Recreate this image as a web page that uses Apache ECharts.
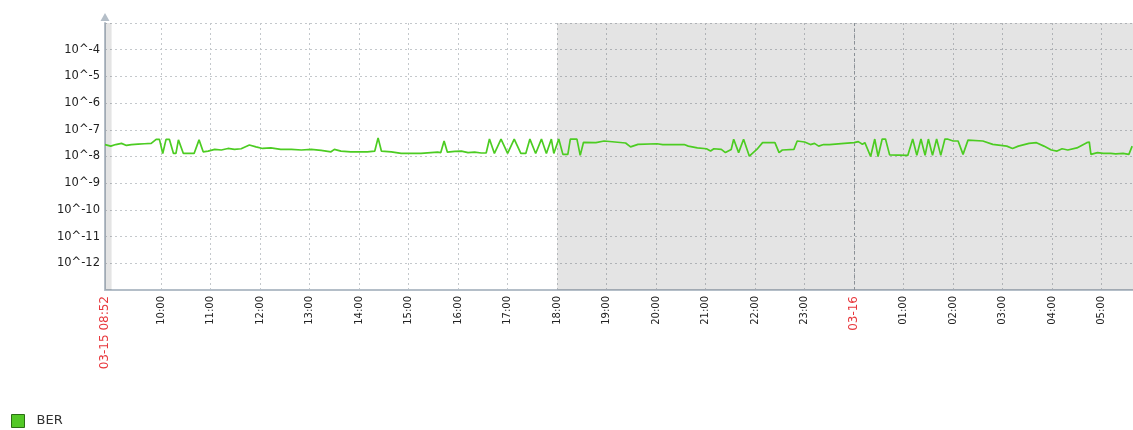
<!DOCTYPE html>
<html>
<head>
<meta charset="utf-8">
<script src="https://cdn.jsdelivr.net/npm/echarts@6/dist/echarts.min.js"></script>
<style>
  html, body { margin: 0; padding: 0; background: #fff; }
  #main { width: 1133px; height: 430px; }
</style>
</head>
<body>
<div id="main"></div>
<script>
// minutes since 03-15 00:00
const startMin = 532   // 03-15 08:52
const endMin = 1778    // 03-16 05:38
const workEnd = 1080   // 18:00, non-working time shaded after this
const workStart = 540  // 09:00

const xTicks = [532, 600, 660, 720, 780, 840, 900, 960, 1020, 1080, 1140, 1200,
   1260, 1320, 1380, 1440, 1500, 1560, 1620, 1680, 1740]
const yLabels = ['10^-4', '10^-5', '10^-6', '10^-7', '10^-8', '10^-9', '10^-10', '10^-11', '10^-12']

const times = [532, 539, 545, 552, 558, 564, 572, 580, 588, 594, 598, 602, 606, 610, 615,
   618, 621, 627, 640, 646, 651, 657, 665, 673, 681, 689, 697, 707, 715, 723, 733, 745,
   758, 770, 782, 794, 806, 810, 818, 830, 840, 850, 859, 863, 867, 879, 891, 903, 915,
   927, 935, 939, 943, 947, 956, 964, 972, 980, 988,
   994, 998, 1004, 1012, 1020, 1028, 1036, 1042, 1047, 1054, 1061, 1067, 1073, 1076,
   1082, 1087, 1093, 1096, 1104, 1108, 1112, 1127, 1137, 1163, 1169, 1178, 1201,
   1208, 1234, 1239, 1250, 1261, 1266, 1270, 1279, 1284, 1291, 1294, 1300, 1306, 1313,
   1322, 1329, 1344, 1349, 1353, 1367, 1371, 1380, 1387, 1392, 1397, 1403, 1410, 1428,
   1440, 1445, 1450, 1453, 1460, 1465, 1469, 1474, 1478, 1483, 1505, 1511, 1516, 1521,
   1526, 1530, 1535, 1540, 1545, 1550, 1553, 1560, 1566, 1572, 1578, 1596, 1608, 1625,
   1632, 1639, 1652, 1661, 1670, 1679, 1686, 1692, 1699, 1710, 1722, 1725, 1727, 1735,
   1742, 1751, 1757, 1766, 1773, 1777]

const ber = [2.8e-8, 2.45e-8, 2.8e-8, 3.1e-8, 2.6e-8, 2.8e-8, 2.9e-8, 3.0e-8, 3.1e-8, 4.4e-8,
   4.4e-8, 1.3e-8, 4.4e-8, 4.4e-8, 1.3e-8, 1.3e-8, 4.2e-8, 1.3e-8, 1.3e-8, 4.2e-8, 1.5e-8,
   1.6e-8, 1.84e-8, 1.75e-8, 2.0e-8, 1.84e-8, 1.95e-8, 2.7e-8, 2.3e-8, 2.0e-8, 2.1e-8,
   1.84e-8, 1.84e-8, 1.75e-8, 1.84e-8, 1.7e-8, 1.5e-8, 1.84e-8, 1.6e-8, 1.5e-8, 1.5e-8,
   1.5e-8, 1.6e-8, 5.0e-8, 1.6e-8, 1.5e-8, 1.3e-8, 1.3e-8, 1.32e-8, 1.4e-8, 1.45e-8, 1.4e-8,
   3.8e-8, 1.45e-8, 1.55e-8, 1.6e-8, 1.4e-8, 1.45e-8, 1.35e-8,
   1.35e-8, 4.5e-8, 1.3e-8, 4.5e-8, 1.3e-8, 4.5e-8, 1.3e-8, 1.3e-8, 4.5e-8, 1.3e-8,
   4.5e-8, 1.3e-8, 4.5e-8, 1.3e-8, 4.5e-8, 1.2e-8, 1.2e-8, 4.5e-8, 4.5e-8, 1.1e-8,
   3.4e-8, 3.3e-8, 3.8e-8, 3.2e-8, 2.3e-8, 2.85e-8, 3.0e-8, 2.8e-8, 2.8e-8, 2.45e-8,
   2.1e-8, 1.95e-8, 1.6e-8, 1.95e-8, 1.84e-8, 1.4e-8, 1.84e-8, 4.4e-8, 1.4e-8, 4.4e-8,
   1.03e-8, 1.84e-8, 3.3e-8, 3.3e-8, 1.4e-8, 1.75e-8, 1.84e-8, 3.8e-8, 3.5e-8, 2.8e-8,
   3.1e-8, 2.45e-8, 2.8e-8, 2.8e-8, 3.1e-8, 3.3e-8, 3.6e-8, 2.9e-8, 3.3e-8, 1.0e-8,
   4.5e-8, 1.0e-8, 4.5e-8, 4.5e-8, 1.15e-8, 1.1e-8, 4.5e-8, 1.1e-8, 4.5e-8, 1.1e-8,
   4.5e-8, 1.1e-8, 4.5e-8, 1.1e-8, 4.5e-8, 4.5e-8, 3.8e-8, 3.8e-8, 1.2e-8, 4.1e-8,
   3.8e-8, 2.85e-8, 2.45e-8, 2.0e-8, 2.45e-8, 3.1e-8, 3.3e-8, 2.45e-8, 1.75e-8, 1.6e-8,
   1.95e-8, 1.75e-8, 2.1e-8, 3.3e-8, 3.5e-8, 1.2e-8, 1.4e-8, 1.3e-8, 1.3e-8, 1.25e-8,
   1.3e-8, 1.2e-8, 2.45e-8]

function pad(n) {
   return (n < 10 ? '0' : '') + n
}

let myChart = echarts.init(document.getElementById('main'))

myChart.setOption({
   animation: false,
   grid: {
      left: 105,
      right: 0,
      top: 23,
      bottom: 140
   },
   legend: {
      left: 11,
      top: 414,
      padding: 0,
      icon: 'rect',
      itemWidth: 13,
      itemHeight: 13,
      itemStyle: {
         borderColor: '#2b6e14',
         borderWidth: 1
      },
      textStyle: {
         fontFamily: 'DejaVu Sans',
         fontSize: 13,
         color: '#333',
         padding: [0, 0, 0, 7]
      },
      data: ['BER']
   },
   xAxis: {
      type: 'value',
      min: startMin,
      max: endMin,
      axisLine: {
         lineStyle: { color: '#b4bec8', width: 2 }
      },
      axisTick: { show: false, customValues: xTicks },
      axisLabel: {
         customValues: xTicks,
         rotate: 90,
         margin: 6,
         fontFamily: 'DejaVu Sans',
         fontSize: 10,
         color: '#222',
         formatter: function (v) {
            if (v === startMin) return '{red|03-15 08:52}'
            if (v === 1440) return '{red|03-16}'
            let m = v % 1440
            return pad(Math.floor(m / 60)) + ':' + pad(m % 60)
         },
         rich: {
            red: { color: '#e8383d', fontSize: 12, fontFamily: 'DejaVu Sans' }
         }
      },
      splitLine: {
         show: true,
         showMinLine: false,
         lineStyle: { color: '#c4c8cc', type: [2, 3], width: 1 }
      }
   },
   yAxis: {
      type: 'log',
      logBase: 10,
      min: 1e-13,
      max: 1e-3,
      splitNumber: 10,
      axisLine: {
         show: true,
         symbol: ['none', 'triangle'],
         symbolSize: [9, 8],
         symbolOffset: [0, 6],
         lineStyle: { color: '#b4bec8', width: 2 }
      },
      axisTick: { show: false },
      axisLabel: {
         showMinLabel: false,
         showMaxLabel: false,
         margin: 5,
         fontFamily: 'DejaVu Sans',
         fontSize: 11.5,
         color: '#222',
         formatter: function (v) {
            let label = '10^' + Math.round(Math.log10(v))
            return yLabels.indexOf(label) >= 0 ? label : ''
         }
      },
      splitLine: {
         show: true,
         showMinLine: false,
         showMaxLine: false,
         lineStyle: { color: '#c4c8cc', type: [2, 3], width: 1 }
      }
   },
   series: [{
      name: 'BER',
      type: 'line',
      showSymbol: false,
      data: times.map((t, i) => [t, ber[i]]),
      itemStyle: { color: '#52c826' },
      lineStyle: { color: '#4ccc22', width: 1.7 },
      markArea: {
         silent: true,
         itemStyle: { color: 'rgba(0,0,0,0.105)' },
         data: [
            [{ xAxis: startMin }, { xAxis: workStart }],
            [{ xAxis: workEnd }, { xAxis: endMin }]
         ]
      },
      markLine: {
         silent: true,
         symbol: 'none',
         label: { show: false },
         lineStyle: { color: '#8a9096', type: [3, 3], width: 1 },
         data: [{ xAxis: 1440 }]
      }
   }]
})
</script>
</body>
</html>
